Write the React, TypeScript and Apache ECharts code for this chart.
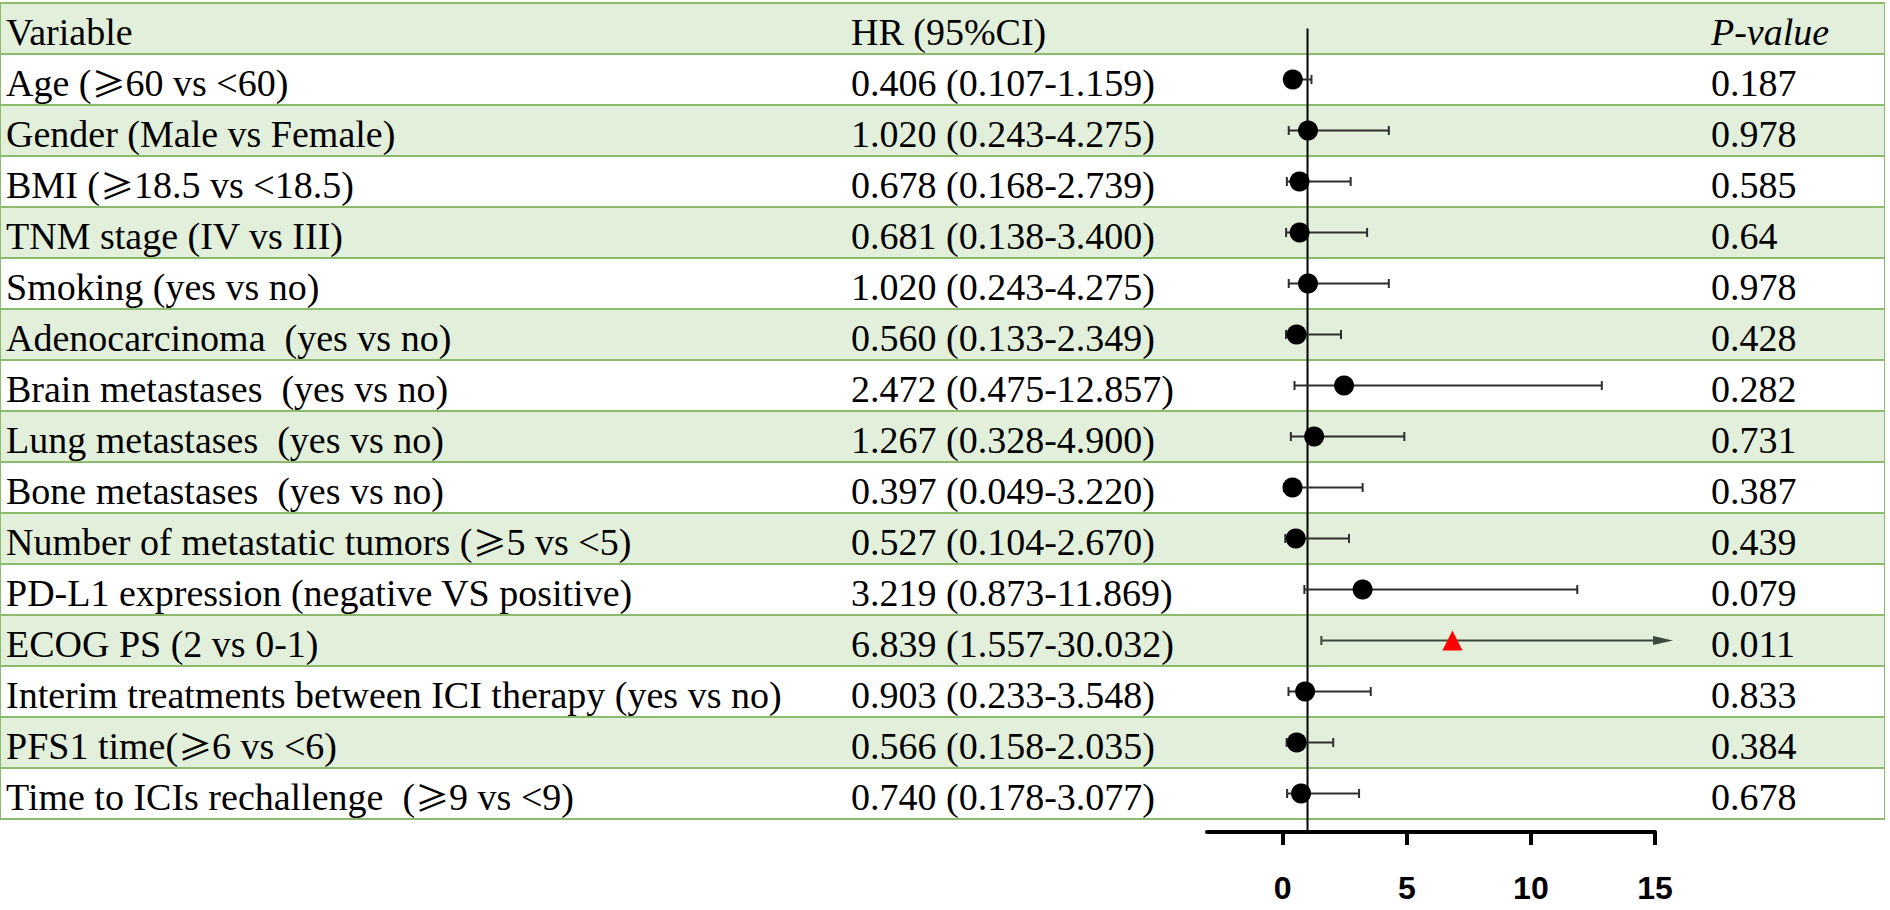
import React, { useEffect, useRef } from 'react';
import * as echarts from 'echarts';

const headers = ['Variable', 'HR (95%CI)', 'P-value'];
const variables = [
  'Age (≥60 vs <60)',
  'Gender (Male vs Female)',
  'BMI (≥18.5 vs <18.5)',
  'TNM stage (IV vs III)',
  'Smoking (yes vs no)',
  'Adenocarcinoma\u00a0 (yes vs no)',
  'Brain metastases\u00a0 (yes vs no)',
  'Lung metastases\u00a0 (yes vs no)',
  'Bone metastases\u00a0 (yes vs no)',
  'Number of metastatic tumors (≥5 vs <5)',
  'PD-L1 expression (negative VS positive)',
  'ECOG PS (2 vs 0-1)',
  'Interim treatments between ICI therapy (yes vs no)',
  'PFS1 time(≥6 vs <6)',
  'Time to ICIs rechallenge\u00a0 (≥9 vs <9)',
];
const hr = [0.406, 1.02, 0.678, 0.681, 1.02, 0.56, 2.472, 1.267, 0.397, 0.527, 3.219, 6.839, 0.903, 0.566, 0.74];
const ciLow = [0.107, 0.243, 0.168, 0.138, 0.243, 0.133, 0.475, 0.328, 0.049, 0.104, 0.873, 1.557, 0.233, 0.158, 0.178];
const ciHigh = [1.159, 4.275, 2.739, 3.4, 4.275, 2.349, 12.857, 4.9, 3.22, 2.67, 11.869, 30.032, 3.548, 2.035, 3.077];
const pValues = ['0.187', '0.978', '0.585', '0.64', '0.978', '0.428', '0.282', '0.731', '0.387', '0.439', '0.079', '0.011', '0.833', '0.384', '0.678'];
const xTicks = [0, 5, 10, 15];
const xMin = -3.05;
const xMax = 15;

const SERIF = "'Liberation Serif', 'Times New Roman', serif";
const CJK = "'Noto Sans CJK SC', 'Liberation Serif', serif";
const GREEN_LINE = '#8cbb6e';
const GREEN_FILL = '#e2efda';
const ROW_H = 51;
const TOP = 3;
const NROWS = variables.length + 1;
const AXIS_Y = 832;
const FS = 38;

const hrText = hr.map((v, i) => `${v.toFixed(3)} (${ciLow[i].toFixed(3)}-${ciHigh[i].toFixed(3)})`);

function tableAxis(gridIndex: number, data: string[], italicHeader = false) {
  return {
    type: 'category',
    gridIndex,
    inverse: true,
    data,
    axisLine: { show: false },
    axisTick: { show: false },
    splitLine: { show: true, lineStyle: { color: GREEN_LINE, width: 2 } },
    splitArea: { show: true, areaStyle: { color: [GREEN_FILL, '#ffffff'] } },
    axisLabel: {
      inside: true,
      interval: 0,
      margin: 5,
      color: '#000',
      fontFamily: SERIF,
      fontSize: FS,
      padding: [6, 0, 0, 0],
      formatter: (v: string, i: number) =>
        italicHeader && i === 0 ? `{it|${v}}` : v.replace(/≥/g, '{g|≥}'),
      rich: {
        it: { fontStyle: 'italic', fontFamily: SERIF, fontSize: FS, color: '#000' },
        g: { fontFamily: CJK, fontSize: 34, color: '#000' },
      },
    },
  };
}

function buildOption() {
  const gridBase = { top: TOP, height: ROW_H * NROWS, show: true, borderColor: GREEN_LINE, borderWidth: 2, backgroundColor: 'transparent' };
  const yMaxForest = -0.5 + (AXIS_Y - TOP) / ROW_H;
  return {
    animation: false,
    backgroundColor: '#ffffff',
    grid: [
      { ...gridBase, left: 1, width: 845 },
      { ...gridBase, left: 846, width: 860 },
      { ...gridBase, left: 1706, width: 178 },
      { left: 1207, width: 448, top: TOP, height: AXIS_Y - TOP, show: false },
    ],
    xAxis: [
      { type: 'value', gridIndex: 0, show: false, min: 0, max: 1 },
      { type: 'value', gridIndex: 1, show: false, min: 0, max: 1 },
      { type: 'value', gridIndex: 2, show: false, min: 0, max: 1 },
      {
        type: 'value',
        gridIndex: 3,
        position: 'bottom',
        min: xMin,
        max: xMax,
        axisLine: { show: true, onZero: false, lineStyle: { color: '#000', width: 4 } },
        axisTick: { show: true, customValues: xTicks, length: 13, inside: false, lineStyle: { color: '#000', width: 4 } },
        axisLabel: {
          customValues: xTicks,
          margin: 40,
          color: '#000',
          fontFamily: "'Liberation Sans', Arial, sans-serif",
          fontWeight: 'bold',
          fontSize: 32,
        },
        splitLine: { show: false },
      },
    ],
    yAxis: [
      tableAxis(0, [headers[0], ...variables]),
      tableAxis(1, [headers[1], ...hrText]),
      tableAxis(2, [headers[2], ...pValues], true),
      { type: 'value', gridIndex: 3, inverse: true, min: -0.5, max: yMaxForest, show: false },
    ],
    series: [
      {
        type: 'line',
        xAxisIndex: 3,
        yAxisIndex: 3,
        data: [[1, 0], [1, yMaxForest]],
        symbol: 'none',
        silent: true,
        lineStyle: { color: '#000', width: 2 },
        z: 3,
      },
      {
        type: 'custom',
        xAxisIndex: 3,
        yAxisIndex: 3,
        clip: false,
        silent: true,
        z: 4,
        data: variables.map((_, i) => [i + 1, ciLow[i], ciHigh[i]]),
        encode: { x: [1, 2], y: 0 },
        renderItem: (params: any, api: any) => {
          const row = api.value(0);
          const lo = api.value(1);
          const hi = api.value(2);
          const capped = hi <= xMax;
          const p0 = api.coord([lo, row]);
          const p1 = api.coord([Math.min(hi, xMax), row]);
          const y = p0[1];
          const col = capped ? '#2e2e2e' : '#3b4a3b';
          const children: any[] = [
            { type: 'line', shape: { x1: p0[0], y1: y, x2: p1[0], y2: y }, style: { stroke: col, lineWidth: 2 } },
            { type: 'line', shape: { x1: p0[0], y1: y - 4.5, x2: p0[0], y2: y + 4.5 }, style: { stroke: col, lineWidth: 2 } },
          ];
          if (capped) {
            children.push({ type: 'line', shape: { x1: p1[0], y1: y - 4.5, x2: p1[0], y2: y + 4.5 }, style: { stroke: col, lineWidth: 2 } });
          } else {
            children.push({
              type: 'polygon',
              shape: { points: [[p1[0] - 2, y - 4.5], [p1[0] + 18, y], [p1[0] - 2, y + 4.5]] },
              style: { fill: col },
            });
          }
          return { type: 'group', children };
        },
      },
      {
        type: 'scatter',
        xAxisIndex: 3,
        yAxisIndex: 3,
        silent: true,
        z: 5,
        data: variables.map((_, i) => {
          const sig = parseFloat(pValues[i]) < 0.05;
          return {
            value: [hr[i], i + 1],
            symbol: sig ? 'triangle' : 'circle',
            symbolSize: 20,
            itemStyle: { color: sig ? '#ff0000' : '#000000', opacity: 1 },
          };
        }),
      },
    ],
  };
}

export default function App() {
  const ref = useRef<HTMLDivElement>(null);
  useEffect(() => {
    document.body.style.margin = '0';
    const chart = echarts.init(ref.current as HTMLDivElement, null, { renderer: 'svg' });
    chart.setOption(buildOption() as any);
    return () => chart.dispose();
  }, []);
  return <div ref={ref} style={{ width: 1890, height: 910, background: '#fff' }} />;
}
